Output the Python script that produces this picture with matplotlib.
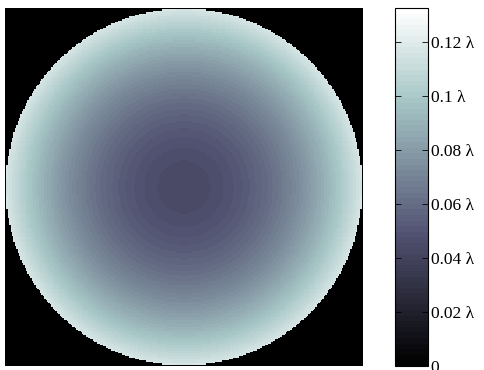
import matplotlib.pyplot as plt
import numpy as np

# wavefront over unit pupil: piston + defocus terms (in waves)
piston = 0.044
defocus = 0.073
grid_n = 256

cbar_ticks = [0, 0.02, 0.04, 0.06, 0.08, 0.10, 0.12]
cbar_labels = ["0", "0.02 λ", "0.04 λ", "0.06 λ", "0.08 λ", "0.1 λ", "0.12 λ"]
vmin, vmax = 0.0, 0.1326

x = np.linspace(-1, 1, grid_n)
xx, yy = np.meshgrid(x, x)
rr2 = xx**2 + yy**2
w = piston + defocus * rr2
w = np.ma.masked_where(rr2 > 1.0, w)

cmap = plt.get_cmap("bone", 64).copy()
cmap.set_bad("black")

plt.rcParams["font.family"] = ["Liberation Serif", "DejaVu Serif"]

fig = plt.figure(figsize=(4.84, 3.70), dpi=100)
ax = fig.add_axes([5/484, 4/370, 358/484, 358/370])
im = ax.imshow(w, cmap=cmap, vmin=vmin, vmax=vmax, interpolation="nearest")
ax.set_facecolor("black")
ax.set_xticks([])
ax.set_yticks([])
for s in ax.spines.values():
    s.set_visible(False)

cax = fig.add_axes([395/484, 4/370, 33/484, 358/370])
cb = fig.colorbar(im, cax=cax, ticks=cbar_ticks)
cb.ax.set_yticklabels(cbar_labels)
cb.ax.tick_params(direction="in", left=True, right=True, length=4, width=0.6,
                  labelsize=12.5, pad=2)
cb.outline.set_linewidth(0.8)

fig.savefig("out.png", dpi=100)
